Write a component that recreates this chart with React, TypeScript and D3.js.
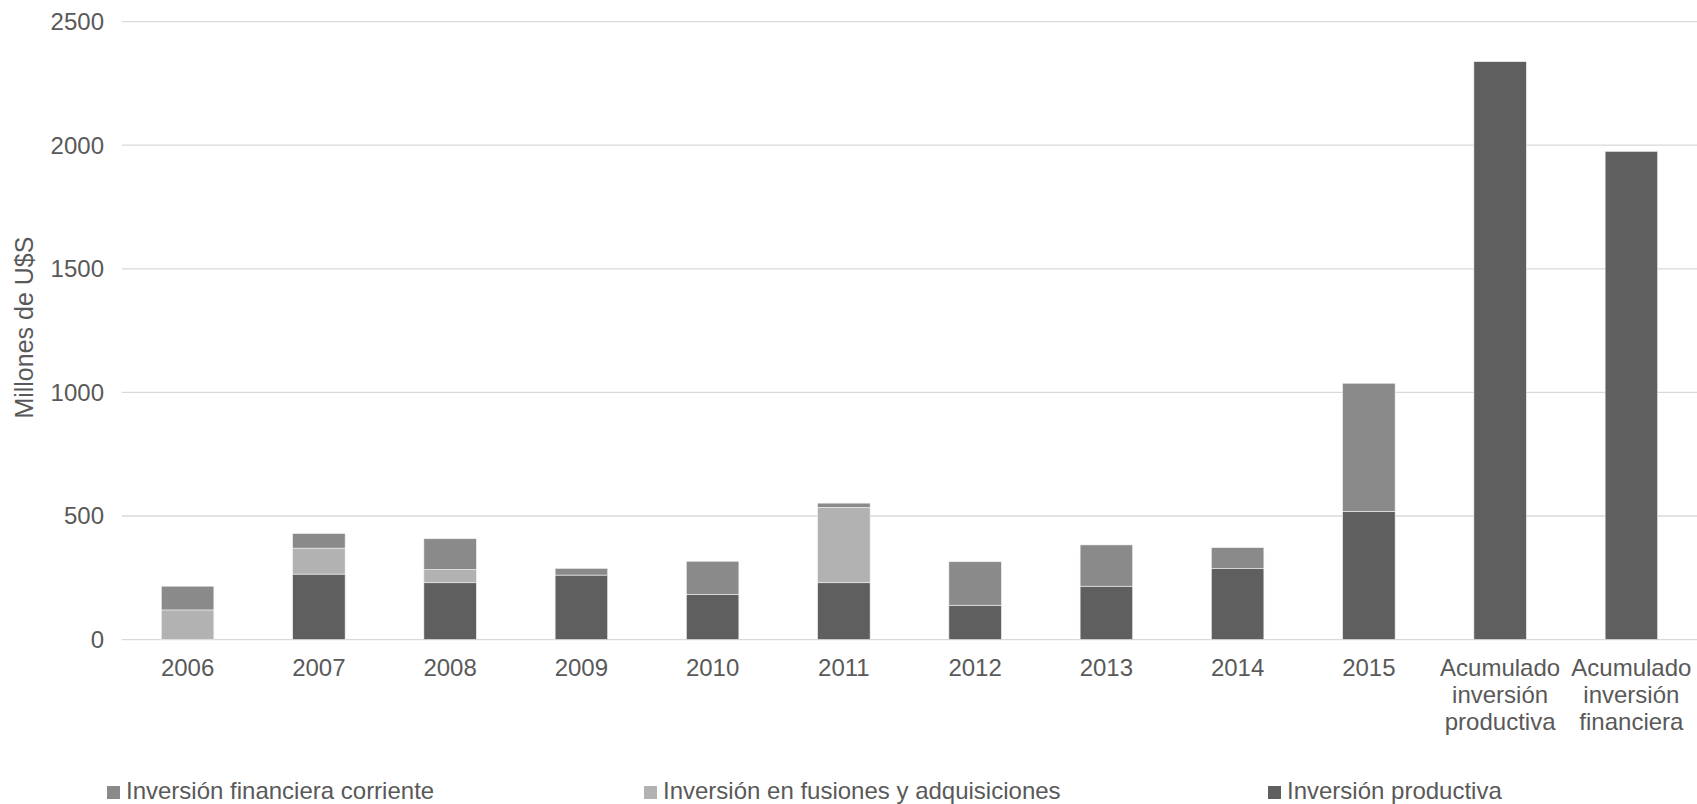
import React from "react";
import * as d3 from "d3";

const categories: string[][] = [
  ["2006"], ["2007"], ["2008"], ["2009"], ["2010"], ["2011"], ["2012"], ["2013"], ["2014"], ["2015"],
  ["Acumulado", "inversión", "productiva"],
  ["Acumulado", "inversión", "financiera"],
];
const productiva = [0, 265, 230, 261, 183, 230, 139, 216, 287, 519, 2338, 1975];
const fusiones = [120, 105, 54, 0, 0, 305, 0, 0, 0, 0, 0, 0];
const financiera = [96, 59, 124, 27, 134, 17, 176, 167, 85, 518, 0, 0];
const yTicks = [0, 500, 1000, 1500, 2000, 2500];

const seriesNames = ["Inversión productiva", "Inversión en fusiones y adquisiciones", "Inversión financiera corriente"];
const seriesColors = ["#5f5f5f", "#b2b2b2", "#8a8a8a"];
const legendOrder = [2, 1, 0];

const W = 1697, H = 804;
const M = { left: 122, right: 1697, top: 21.6, bottom: 639.6 };
const FONT = "'Liberation Sans', Arial, sans-serif";
const TXT = "#595959";

export default function App() {
  const keys = categories.map((c) => c.join(" "));
  const x = d3.scaleBand<string>().domain(keys).range([M.left, M.right]).paddingInner(0.6).paddingOuter(0.3);
  const y = d3.scaleLinear().domain([0, 2500]).range([M.bottom, M.top]);
  const rows = keys.map((k, i) => ({ key: k, p: productiva[i], f: fusiones[i], c: financiera[i] }));
  const stack = d3.stack<any>().keys(["p", "f", "c"])(rows);

  const legendX = [107, 644, 1268];

  return (
    <svg width={W} height={H} style={{ position: "absolute", left: 0, top: 0, background: "#fff" }} fontFamily={FONT}>
      {yTicks.map((t) => (
        <g key={t}>
          <line x1={M.left} x2={M.right} y1={y(t)} y2={y(t)} stroke="#d9d9d9" strokeWidth={1.3} />
          <text x={104} y={y(t)} dy="0.35em" textAnchor="end" fontSize={24} fill={TXT}>{t}</text>
        </g>
      ))}
      {stack.map((s, si) => (
        <g key={si} fill={seriesColors[si]}>
          {s.map((d: any, i: number) =>
            d[1] - d[0] > 0 ? (
              <rect key={i} x={x(keys[i])!} width={x.bandwidth()} y={y(d[1])} height={y(d[0]) - y(d[1])} stroke="#f2f2f2" strokeWidth={0.6} />
            ) : null
          )}
        </g>
      ))}
      {categories.map((c, i) => (
        <text key={i} textAnchor="middle" fontSize={24} fill={TXT}>
          {c.map((line, li) => (
            <tspan key={li} x={x(keys[i])! + x.bandwidth() / 2} y={675.5 + li * 27}>{line}</tspan>
          ))}
        </text>
      ))}
      <text transform={`translate(33,${(M.top + M.bottom) / 2 - 3}) rotate(-90)`} textAnchor="middle" fontSize={25} fill={TXT}>Millones de U$S</text>
      {legendOrder.map((si, j) => (
        <g key={si} transform={`translate(${legendX[j]},799)`}>
          <rect x={0} y={-13} width={13} height={13} fill={seriesColors[si]} />
          <text x={19} y={0} fontSize={24} fill={TXT}>{seriesNames[si]}</text>
        </g>
      ))}
    </svg>
  );
}
